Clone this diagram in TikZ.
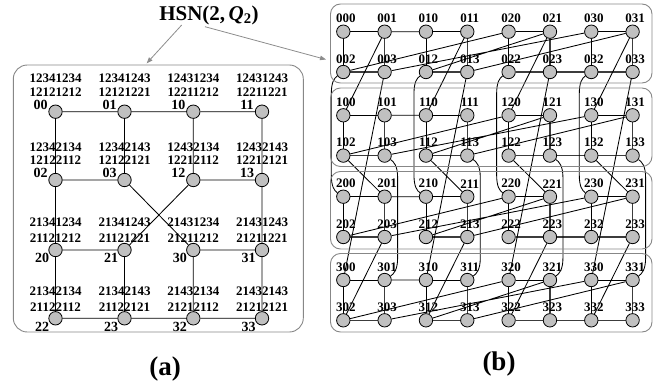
\documentclass[tikz,border=0pt]{standalone}
\usepackage{fontspec}
\setmainfont{Liberation Serif}
\usetikzlibrary{arrows.meta,calc,backgrounds}
\definecolor{vgray}{RGB}{192,192,192}
\definecolor{boxgray}{RGB}{135,135,135}
\definecolor{arrgray}{RGB}{140,140,140}
\definecolor{thickgray}{RGB}{60,60,60}
\begin{document}
\begin{tikzpicture}[x=1pt,y=-1pt,
  vtx/.style={circle,draw=black,fill=vgray,line width=0.8pt,minimum size=13.4pt,inner sep=0pt},
  edge/.style={line width=0.85pt,draw=black},
  thickedge/.style={line width=1.3pt,draw=thickgray},
  grp/.style={draw=boxgray,line width=0.9pt,rounded corners=10pt},
  grpa/.style={draw=boxgray,line width=0.9pt,rounded corners=14pt},
  seqtxt/.style={inner sep=0pt,font=\bfseries\fontsize{13}{13}\selectfont},
  namea/.style={inner sep=0pt,font=\bfseries\fontsize{14}{14}\selectfont},
  nameb/.style={inner sep=0pt,font=\bfseries\fontsize{13}{13}\selectfont},
  pointer/.style={draw=arrgray,line width=0.8pt,-{Triangle[length=6pt,width=4.5pt]}},
  caption/.style={inner sep=0pt,font=\bfseries\fontsize{27}{27}\selectfont,anchor=base}
]
\useasboundingbox (0,0) rectangle (656,383);

% ---------- title and pointers ----------
\node[inner sep=0pt,anchor=base,font=\bfseries\fontsize{21}{21}\selectfont] (title) at (209,20)
  {HSN(2,\,\textit{Q}\textsubscript{2})};
\coordinate (t1) at (181.7,25);
\coordinate (t2) at (205,26.7);
\coordinate (pa) at (146.7,63.3);
\coordinate (pb) at (326,59.5);
\draw[pointer] (t1) -- (pa);
\draw[pointer] (t2) -- (pb);

% ---------- panel (a) ----------
\draw[grpa] (13.3,65) rectangle (303.3,332);
\foreach \n/\c/\r/\la/\lb in {
  00/0/0/12341234/12121212, 01/1/0/12341243/12121221, 10/2/0/12431234/12211212, 11/3/0/12431243/12211221,
  02/0/1/12342134/12122112, 03/1/1/12342143/12122121, 12/2/1/12432134/12212112, 13/3/1/12432143/12212121}{
  \pgfmathsetmacro\xx{{55.5,124.5,193.3,262}[\c]}
  \pgfmathsetmacro\yy{{111.7,180}[\r]}
  \node[vtx] (a\n) at (\xx,\yy) {};
  \node[seqtxt] (sa\n) at (\xx,\yy-33) {\la};
  \node[seqtxt] (sb\n) at (\xx,\yy-20) {\lb};
  \node[namea] (la\n) at (\xx-15,\yy-7) {\n};
}
\foreach \n/\c/\r/\la/\lb in {
  20/0/0/21341234/21121212, 21/1/0/21341243/21121221, 30/2/0/21431234/21211212, 31/3/0/21431243/21211221,
  22/0/1/21342134/21122112, 23/1/1/21342143/21122121, 32/2/1/21432134/21212112, 33/3/1/21432143/21212121}{
  \pgfmathsetmacro\xx{{55.5,124.5,193.3,262}[\c]}
  \pgfmathsetmacro\yy{{250,318.3}[\r]}
  \node[vtx] (a\n) at (\xx,\yy) {};
  \node[seqtxt] (sa\n) at (\xx,\yy-27.5) {\la};
  \node[seqtxt] (sb\n) at (\xx,\yy-11.5) {\lb};
  \node[namea] (la\n) at (\xx-13.5,\yy+8.3) {\n};
}
\begin{scope}[on background layer]
\draw[edge] (a00)--(a01) (a01)--(a10) (a10)--(a11)
  (a00)--(a02) (a01)--(a03) (a10)--(a12) (a11)--(a13)
  (a02)--(a03) (a12)--(a13) (a03)--(a30) (a12)--(a21)
  (a02)--(a20) (a13)--(a31) (a20)--(a21) (a30)--(a31)
  (a20)--(a22) (a21)--(a23) (a30)--(a32) (a31)--(a33)
  (a22)--(a23) (a23)--(a32) (a32)--(a33);
\end{scope}

% ---------- panel (b) ----------
\draw[grp] (330.5,4) rectangle (652,83);
\draw[grp] (330.5,88) rectangle (652,166.5);
\draw[grp] (330.5,171.5) rectangle (652,249);
\draw[grp] (330.5,253.5) rectangle (652,332);
\foreach \a in {0,...,3}{
  \foreach \b in {0,...,3}{
    \foreach \c in {0,...,3}{
      \pgfmathsetmacro\xx{343.3+41.33*(2*\b+mod(\c,2))}
      \pgfmathsetmacro\yy{{31.7,115.3,196.7,280}[\a]+40.3*int(\c/2)}
      \node[vtx] (b\a\b\c) at (\xx,\yy) {};
      \node[nameb] (lb\a\b\c) at (\xx+2.5,\yy-13) {\a\b\c};
    }
  }
}
\begin{scope}[on background layer]
\foreach \a in {0,...,3}{
  \foreach \b in {0,...,3}{
    \draw[edge] (b\a\b0)--(b\a\b1) (b\a\b0)--(b\a\b2);
    \draw[thickedge] (b\a\b1)--(b\a\b3) (b\a\b2)--(b\a\b3);
  }
  \draw[edge] (b\a01)--(b\a10) (b\a02)--(b\a20) (b\a03)--(b\a30)
    (b\a12)--(b\a21) (b\a13)--(b\a31);
  \draw[thickedge] (b\a23)--(b\a32);
}
\foreach \b in {0,...,3}{
  \draw[edge] (b0\b1)--(b1\b0);
  \draw[edge] (b0\b3)--(b3\b0);
  \draw[edge] (b1\b2)--(b2\b1);
  \draw[edge] (b2\b3)--(b3\b2);
  \draw[edge] (b0\b2) .. controls +(-9,6) and +(0,-12) .. ($(b0\b2)+(-12,22)$)
     -- ($(b2\b0)+(-12,-22)$) .. controls +(0,12) and +(-9,-6) .. (b2\b0);
  \draw[edge] (b1\b3) .. controls +(9,6) and +(0,-12) .. ($(b1\b3)+(13,22)$)
     -- ($(b3\b1)+(13,-22)$) .. controls +(0,12) and +(9,-6) .. (b3\b1);
}
\end{scope}

% ---------- captions ----------
\node[caption] (capa) at (165,375) {(a)};
\node[caption] (capb) at (499,370) {(b)};
\end{tikzpicture}
\end{document}
